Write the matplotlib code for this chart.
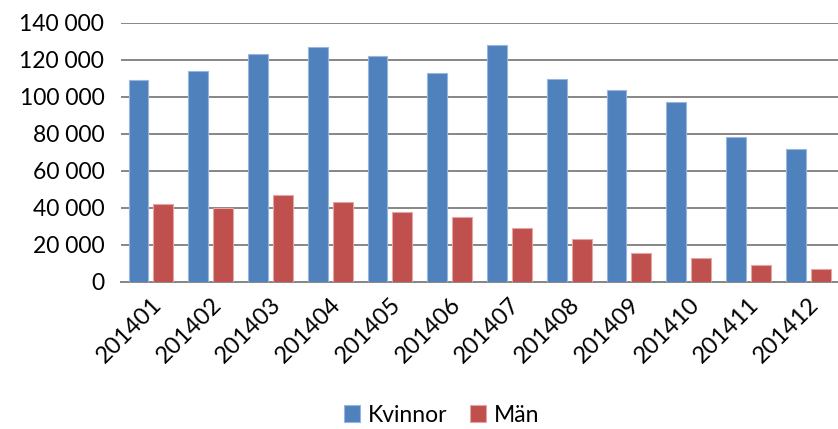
import matplotlib
matplotlib.use("Agg")
import matplotlib.pyplot as plt
import numpy as np
from matplotlib.ticker import FuncFormatter

manader = ["201401", "201402", "201403", "201404", "201405", "201406",
           "201407", "201408", "201409", "201410", "201411", "201412"]
kvinnor = [109000, 114000, 123000, 126700, 121800, 113000,
           127700, 109400, 103400, 97100, 78400, 71500]
man = [42000, 39800, 47000, 43000, 37700, 35000,
       29000, 23300, 15700, 12600, 9200, 7000]

plt.rcParams['font.family'] = ['Lato', 'DejaVu Sans']

fig = plt.figure(figsize=(8.38, 4.29), dpi=100)
ax = fig.add_axes([0.1444, 0.3434, 0.8556, 0.6036])

x = np.arange(len(manader))
w = 0.333
ax.bar(x - 0.208, kvinnor, w, color="#4f81bd", edgecolor="#9bb6dc", linewidth=0.8, label="Kvinnor", zorder=3)
ax.bar(x + 0.208, man, w, color="#c0504d", edgecolor="#e3a6a5", linewidth=0.8, label="Män", zorder=3)

ax.set_xlim(-0.5, len(manader) - 0.5)
ax.set_ylim(0, 140000)
ax.set_yticks(np.arange(0, 140001, 20000))
ax.yaxis.set_major_formatter(FuncFormatter(lambda v, p: f"{int(v):,}".replace(",", " ")))
ax.yaxis.grid(True, color="#868686", linewidth=1.4, zorder=0)
ax.set_xticks(x)
ax.set_xticklabels(manader, rotation=45, ha="right", rotation_mode="anchor", fontsize=17)
ax.tick_params(axis="both", length=0, colors="black")
ax.tick_params(axis="y", labelsize=16.5, pad=12)
ax.tick_params(axis="x", pad=9)

for s in ["top", "right", "left"]:
    ax.spines[s].set_visible(False)
ax.spines["bottom"].set_color("#868686")
ax.spines["bottom"].set_linewidth(1.4)

fig.legend(loc="lower center", bbox_to_anchor=(0.527, -0.04), ncol=2, frameon=False,
           fontsize=16.5, handlelength=0.7, handleheight=0.7, handletextpad=0.35, columnspacing=1.0)

fig.savefig("out.png", dpi=100)
